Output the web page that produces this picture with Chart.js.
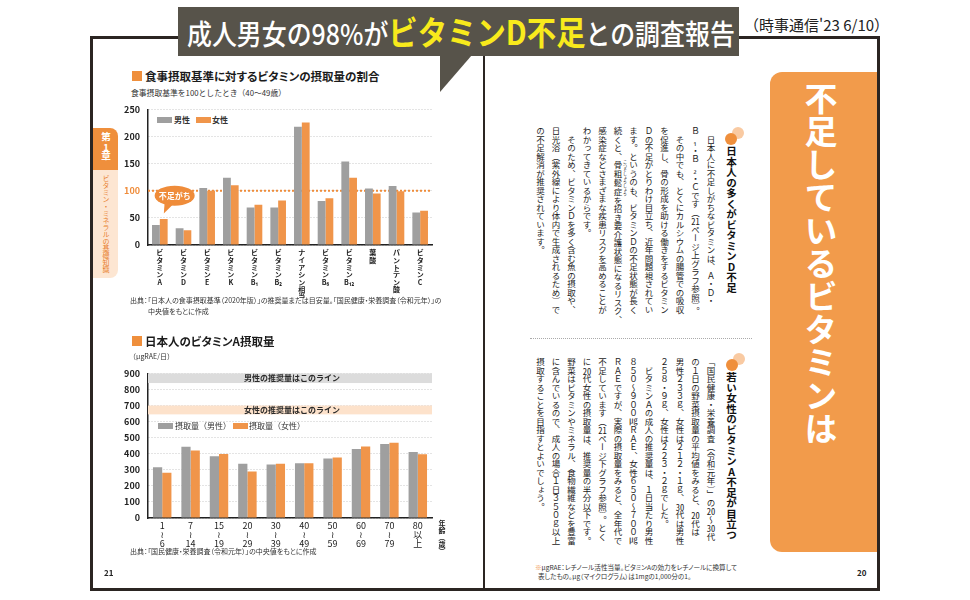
<!DOCTYPE html>
<html lang="ja">
<head>
<meta charset="utf-8">
<script src="https://cdn.jsdelivr.net/npm/chart.js@4.4.1/dist/chart.umd.min.js"></script>
<style>
html, body { margin: 0; padding: 0; background: #fff; }
body { width: 970px; height: 600px; position: relative; overflow: hidden;
       font-family: "Noto Sans CJK JP", "Noto Sans", sans-serif; color: #222; }
.abs { position: absolute; }
.line { position: absolute; background: #2b2522; }
.vt { writing-mode: vertical-rl; text-orientation: upright; white-space: nowrap; }
.tcy { text-combine-upright: all; }
.palt { font-feature-settings: "palt"; }
.sq { position: absolute; width: 10px; height: 10px; background: #ef8f3c; }
.ttl { position: absolute; font-weight: bold; font-size: 11.5px; line-height: 16px; color: #1b1b1b; white-space: nowrap; }
.note { position: absolute; font-size: 7px; line-height: 10px; color: #333; white-space: nowrap; }
.sw { position: absolute; width: 15px; height: 6px; }
.lg { position: absolute; font-size: 8px; font-weight: bold; line-height: 10px; color: #333; white-space: nowrap; }
.body { position: absolute; font-size: 8.5px; line-height: 15.5px; color: #1a1a1a; }
.body rt { font-size: 4px; }
.head { position: absolute; font-size: 10.5px; font-weight: bold; color: #111; line-height: 14px; }
.dot1 { position: absolute; border-radius: 50%; width: 12px; height: 12px; }
canvas { position: absolute; }
</style>
</head>
<body>

<!-- page frame -->
<div class="line" style="left:90px;top:36px;width:3px;height:555px"></div>
<div class="line" style="left:90px;top:36px;width:90px;height:3px"></div>
<div class="line" style="left:737px;top:36px;width:143px;height:3px"></div>
<div class="line" style="left:877px;top:36px;width:3px;height:555px"></div>
<div class="line" style="left:90px;top:588px;width:790px;height:3px"></div>
<div class="line" style="left:483px;top:56px;width:2px;height:533px"></div>

<!-- header -->
<div class="abs" style="left:178px;top:7px;width:561px;height:49px;background:#57534a"></div>
<div class="abs" style="left:440px;top:55px;width:32px;height:37px;background:#57534a;clip-path:polygon(0 0,100% 0,0 100%)"></div>
<div class="abs" style="left:187px;top:8px;height:47px;line-height:47px;white-space:nowrap;transform:scaleX(0.89);transform-origin:left center;color:#fff;font-size:28px;font-weight:500">成人男女の98%が<span style="color:#f8ea1c;font-weight:bold;font-size:33px">ビタミンD不足</span>との調査報告</div>
<div class="abs" style="left:744px;top:14px;font-size:15px;line-height:22px;white-space:nowrap;color:#222">（時事通信'23 6/10）</div>

<!-- chapter tab -->
<div class="abs" style="left:93px;top:128px;width:25px;height:42px;background:#ef8f3c;border-radius:0 8px 0 0"></div>
<div class="abs vt" style="left:93px;top:132px;width:25px;font-size:9.5px;line-height:25px;font-weight:bold;color:#fff;text-align:center">第<span class="tcy">1</span>章</div>
<div class="abs" style="left:93px;top:170px;width:25px;height:108px;background:#fde6d2;border-radius:0 0 8px 0"></div>
<div class="abs vt" style="left:93px;top:175px;width:25px;font-size:7px;line-height:25px;color:#e8812f">ビタミン・ミネラルの基礎知識</div>

<!-- chart 1 texts -->
<div class="sq" style="left:132px;top:71px"></div>
<div class="ttl palt" style="left:145px;top:68px">食事摂取基準に対するビタミンの摂取量の割合</div>
<div class="note" style="left:131px;top:88px;font-size:7.8px">食事摂取基準を100としたとき（40〜49歳）</div>
<div class="sw" style="left:157px;top:117px;background:#9f9f9f"></div>
<div class="lg" style="left:174px;top:115px">男性</div>
<div class="sw" style="left:196px;top:117px;background:#f0954a"></div>
<div class="lg" style="left:212px;top:115px">女性</div>
<canvas id="ratioChart" width="345" height="202" style="left:100px;top:96px;width:345px;height:202px"></canvas>
<div class="note palt" style="left:130px;top:295px">出典：「日本人の食事摂取基準（2020年版）」の推奨量または目安量。「国民健康・栄養調査（令和元年）」の</div>
<div class="note palt" style="left:148px;top:306px">中央値をもとに作成</div>

<!-- chart 2 texts -->
<div class="sq" style="left:132px;top:336px"></div>
<div class="ttl palt" style="left:145px;top:333px">日本人のビタミンA摂取量</div>
<div class="note" style="left:129px;top:351px">（μgRAE/日）</div>
<div class="sw" style="left:158px;top:423px;background:#9f9f9f"></div>
<div class="lg" style="left:175px;top:421px;font-weight:normal">摂取量（男性）</div>
<div class="sw" style="left:233px;top:423px;background:#f0954a"></div>
<div class="lg" style="left:249px;top:421px;font-weight:normal">摂取量（女性）</div>
<canvas id="intakeChart" width="345" height="195" style="left:100px;top:360px;width:345px;height:195px"></canvas>
<div class="abs vt" style="left:437px;top:520px;font-size:7px;line-height:10px;font-weight:bold;color:#222">年齢（歳）</div>
<div class="note palt" style="left:130px;top:546px">出典：「国民健康・栄養調査（令和元年）」の中央値をもとに作成</div>
<div class="abs" style="left:104px;top:567px;font-size:8px;font-weight:bold">21</div>

<!-- right page -->
<div class="dot1" style="left:732px;top:127px;background:#f9caa2"></div>
<div class="dot1" style="left:725px;top:133px;background:#ef8f3c"></div>
<div class="head vt" style="left:724px;top:146px;width:14px">日本人の多くがビタミンD不足</div>
<div class="body vt" style="left:532px;top:127px;width:186px;height:200px">　日本人に不足しがちなビタミンは、Ａ・Ｄ・<br>Ｂ₁・Ｂ₂・Ｃです（<span class="tcy">21</span>ページ上グラフ参照）。<br>　その中でも、とくにカルシウムの腸管での吸収<br>を促進し、骨の形成を助ける働きをするビタミン<br>Ｄの不足がとりわけ目立ち、近年問題視されてい<br>ます。というのも、ビタミンＤの不足状態が長く<br>続くと、<ruby>骨粗鬆症<rt>こつそしょうしょう</rt></ruby>を招き要介護状態になるリスク、<br>感染症などさまざまな疾患リスクを高めることが<br>わかってきているからです。<br>　そのため、ビタミンＤを多く含む魚の摂取や、<br>日光浴（紫外線により体内で生成されるため）で<br>の不足解消が推奨されています。</div>

<div class="abs" style="left:530px;top:338px;width:222px;border-top:1px dotted #aaa"></div>

<div class="dot1" style="left:733px;top:353px;background:#f9caa2"></div>
<div class="dot1" style="left:726px;top:359px;background:#ef8f3c"></div>
<div class="head vt" style="left:724px;top:372px;width:14px">若い女性のビタミンA不足が目立つ</div>
<div class="body vt" style="left:532px;top:358px;width:186px;height:195px">「国民健康・栄養調査（令和元年）」の<span class="tcy">20</span>〜<span class="tcy">30</span>代<br>の１日の野菜摂取量の平均値をみると、<span class="tcy">20</span>代は<br>男性２３３ｇ、女性は２１２・１ｇ、<span class="tcy">30</span>代は男性<br>２５８・９ｇ、女性は２２３・２ｇでした。<br>　ビタミンＡの成人の推奨量は、１日当たり男性<br>８５０〜９００㎍ＲＡＥ、女性６５０〜７００㎍<br>ＲＡＥですが、実際の摂取量をみると、全年代で<br>不足しています（<span class="tcy">21</span>ページ下グラフ参照）。とく<br>に<span class="tcy">20</span>代女性の摂取量は、推奨量の半分以下です。<br>野菜はビタミンやミネラル、食物繊維などを豊富<br>に含んでいるので、成人の場合１日３５０ｇ以上<br>摂取することを目指すとよいでしょう。</div>

<div class="note palt" style="left:535px;top:563px;font-size:6.6px;line-height:9px"><span style="color:#ef8f3c">※</span>μgRAE：レチノール活性当量。ビタミンAの効力をレチノールに換算して<br>&nbsp;&nbsp;表したもの。μg（マイクログラム）は1mgの1,000分の1。</div>
<div class="abs" style="left:857px;top:567px;font-size:8px;font-weight:bold">20</div>

<div class="abs" style="left:770px;top:72px;width:107px;height:480px;background:#f29b4b;border-radius:12px 0 0 12px"></div>
<div class="abs vt" style="left:803px;top:82px;width:36px;font-size:33px;line-height:36px;font-weight:bold;color:#fff">不足しているビタミンは</div>

<script>
// chart 1: intake ratio against the dietary reference (40-49)
var vitaminNames = ['ビタミンA', 'ビタミンD', 'ビタミンE', 'ビタミンK', 'ビタミンB₁', 'ビタミンB₂',
    'ナイアシン相当', 'ビタミンB₆', 'ビタミンB₁₂', '葉酸', 'パントテン酸', 'ビタミンC'];
var ratioMale   = [37, 31, 105, 124, 69, 69, 218, 81, 154, 104, 109, 60];
var ratioFemale = [48, 27, 100, 110, 74, 82, 226, 86, 124, 95, 99, 63];
var ratioTicks  = [0, 50, 100, 150, 200, 250];
var standardLevel = 100;

// chart 2: vitamin A intake by age group
var ageGroups   = ['1〜6', '7〜14', '15〜19', '20〜29', '30〜39', '40〜49', '50〜59', '60〜69', '70〜79', '80以上'];
var intakeMale   = [316, 443, 384, 338, 333, 340, 370, 429, 461, 411];
var intakeFemale = [282, 420, 398, 290, 337, 341, 376, 445, 468, 397];
var intakeTicks  = [0, 100, 200, 300, 400, 500, 600, 700, 800, 900];
var recommendMale   = [840, 900];
var recommendFemale = [645, 700];

var GREY = '#9f9f9f';
var ORANGE = '#f0954a';
var ACCENT = '#ef8c3a';
var INK = '#222';

Chart.defaults.font.family = '"Noto Sans CJK JP", "Noto Sans", "DejaVu Sans", sans-serif';

// one character per line, subscripts stay with their letter
function stackChars(s) {
    return s.match(/.[₀-₉]*/gu);
}

function stackAge(s) {
    var parts = s.split('〜');
    if (parts.length === 2) return [parts[0], '≀', parts[1]];
    var num = s.match(/^\d+/)[0];
    return [num].concat(Array.from(s.slice(num.length)));
}

document.addEventListener('DOMContentLoaded', function () {

    var standardPlugin = {
        id: 'standardLine',
        beforeDatasetsDraw: function (chart) {
            var area = chart.chartArea;
            var y = chart.scales.y.getPixelForValue(standardLevel);
            var ctx = chart.ctx;
            ctx.save();
            ctx.strokeStyle = ACCENT;
            ctx.lineWidth = 2;
            ctx.setLineDash([2, 2]);
            ctx.beginPath();
            ctx.moveTo(area.left, y);
            ctx.lineTo(area.right, y);
            ctx.stroke();
            ctx.restore();
        },
        afterDatasetsDraw: function (chart) {
            // "不足がち" speech bubble over A and D
            var xs = chart.scales.x, ys = chart.scales.y;
            var cx = (xs.getPixelForValue(0) + xs.getPixelForValue(1)) / 2 + 3;
            var cy = ys.getPixelForValue(91);
            var tipX = xs.getPixelForValue(0) + 4;
            var tipY = ys.getPixelForValue(58);
            var ctx = chart.ctx;
            ctx.save();
            ctx.fillStyle = ACCENT;
            ctx.beginPath();
            ctx.ellipse(cx, cy, 20, 10, 0, 0, Math.PI * 2);
            ctx.fill();
            ctx.beginPath();
            ctx.moveTo(cx - 10, cy + 6);
            ctx.lineTo(cx - 1, cy + 8);
            ctx.lineTo(tipX, tipY);
            ctx.closePath();
            ctx.fill();
            ctx.fillStyle = '#fff';
            ctx.font = 'bold 8px "Noto Sans CJK JP"';
            ctx.textAlign = 'center';
            ctx.textBaseline = 'middle';
            ctx.fillText('不足がち', cx, cy);
            ctx.restore();
        }
    };

    new Chart(document.getElementById('ratioChart'), {
        type: 'bar',
        data: {
            labels: vitaminNames,
            datasets: [
                { label: '男性', data: ratioMale, backgroundColor: GREY },
                { label: '女性', data: ratioFemale, backgroundColor: ORANGE }
            ]
        },
        options: {
            responsive: false,
            animation: false,
            layout: { padding: { top: 9, right: 13, bottom: 0, left: 0 } },
            datasets: { bar: { categoryPercentage: 0.66, barPercentage: 1 } },
            plugins: { legend: { display: false }, tooltip: { enabled: false } },
            scales: {
                x: {
                    grid: { display: false, drawTicks: false },
                    border: { color: INK, width: 1.5 },
                    ticks: {
                        autoSkip: false, maxRotation: 0, minRotation: 0, padding: 4,
                        color: INK,
                        font: { size: 7, weight: 'bold', lineHeight: 1.05 },
                        callback: function (v, i) { return stackChars(vitaminNames[i]); }
                    },
                    afterFit: function (s) { s.height = 53; }
                },
                y: {
                    min: 0, max: 250,
                    afterBuildTicks: function (s) { s.ticks = ratioTicks.map(function (v) { return { value: v }; }); },
                    grid: { color: '#c9c9c9', drawTicks: false },
                    border: { color: INK, width: 1.5, dash: [1, 2] },
                    ticks: {
                        padding: 8,
                        font: { size: 9, weight: 'bold' },
                        color: function (c) { return c.tick.value === standardLevel ? ACCENT : INK; }
                    },
                    afterFit: function (s) { s.width = 48; }
                }
            }
        },
        plugins: [standardPlugin]
    });

    // recommended intake bands
    var bandPlugin = {
        id: 'recommendBands',
        beforeDatasetsDraw: function (chart) {
            var area = chart.chartArea;
            var ys = chart.scales.y;
            var ctx = chart.ctx;
            var bands = [
                { range: recommendMale, color: '#dcdcdc', text: '男性の推奨量はこのライン' },
                { range: recommendFemale, color: '#fde2cb', text: '女性の推奨量はこのライン' }
            ];
            ctx.save();
            bands.forEach(function (b) {
                var top = ys.getPixelForValue(b.range[1]);
                var bottom = ys.getPixelForValue(b.range[0]);
                ctx.fillStyle = b.color;
                ctx.fillRect(area.left, top, area.right - area.left, bottom - top);
                ctx.fillStyle = '#2a2a2a';
                ctx.font = 'bold 8px "Noto Sans CJK JP"';
                ctx.textAlign = 'center';
                ctx.textBaseline = 'middle';
                ctx.fillText(b.text, (area.left + area.right) / 2 + 2, (top + bottom) / 2);
            });
            ctx.restore();
        }
    };

    new Chart(document.getElementById('intakeChart'), {
        type: 'bar',
        data: {
            labels: ageGroups,
            datasets: [
                { label: '摂取量（男性）', data: intakeMale, backgroundColor: GREY },
                { label: '摂取量（女性）', data: intakeFemale, backgroundColor: ORANGE }
            ]
        },
        options: {
            responsive: false,
            animation: false,
            layout: { padding: { top: 8, right: 13, bottom: 0, left: 0 } },
            datasets: { bar: { categoryPercentage: 0.65, barPercentage: 1 } },
            plugins: { legend: { display: false }, tooltip: { enabled: false } },
            scales: {
                x: {
                    grid: { display: false, drawTicks: false },
                    border: { color: INK, width: 1.5 },
                    ticks: {
                        autoSkip: false, maxRotation: 0, minRotation: 0, padding: 3,
                        color: INK,
                        font: { size: 9, lineHeight: 1 },
                        callback: function (v, i) { return stackAge(ageGroups[i]); }
                    },
                    afterFit: function (s) { s.height = 37; }
                },
                y: {
                    min: 0, max: 900,
                    afterBuildTicks: function (s) { s.ticks = intakeTicks.map(function (v) { return { value: v }; }); },
                    grid: { color: '#c9c9c9', drawTicks: false },
                    border: { color: INK, width: 1.5, dash: [1, 2] },
                    ticks: { padding: 8, font: { size: 9, weight: 'bold' }, color: INK },
                    afterFit: function (s) { s.width = 48; }
                }
            }
        },
        plugins: [bandPlugin]
    });
});
</script>
</body>
</html>
